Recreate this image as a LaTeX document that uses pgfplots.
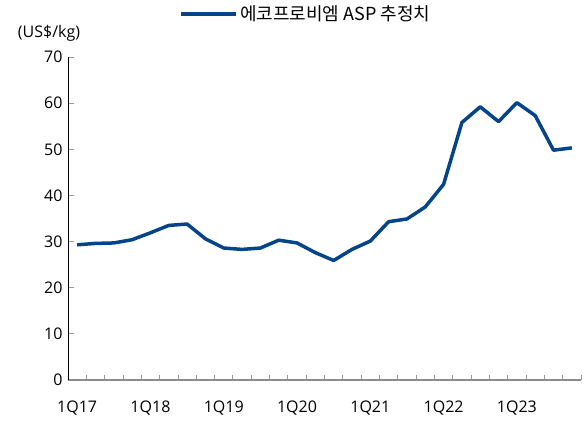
\documentclass[border=0pt]{standalone}
\usepackage{fontspec}
\setmainfont{Open Sans}
\newfontfamily\kr{Noto Sans CJK KR}
\usepackage{pgfplots}
\pgfplotsset{compat=1.18}
\definecolor{lineblue}{RGB}{6,68,138}
\begin{document}
\fontsize{16bp}{19bp}\selectfont
\begin{tikzpicture}
\begin{axis}[
  name=ax,
  scale only axis,
  width=513bp, height=323bp,
  xmin=-0.5, xmax=27.5,
  ymin=0, ymax=70,
  ytick={0,10,...,70},
  xtick={0,4,...,24},
  xticklabels={1Q17,1Q18,1Q19,1Q20,1Q21,1Q22,1Q23},
  minor xtick={-0.5,0.5,...,27.5},
  major x tick style={draw=none},
  minor x tick style={draw=gray!80, line width=0.8bp},
  minor tick length=5bp,
  y tick style={draw=gray!80, line width=0.8bp},
  major tick length=6bp,
  tick align=inside,
  axis x line*=bottom,
  axis y line*=left,
  x axis line style={draw=gray!90, line width=1.6bp, -},
  y axis line style={draw=black, line width=0.7bp, -},
  xticklabel style={yshift=-15bp},
  yticklabel style={xshift=0bp},
  /pgf/number format/assume math mode=true,
  legend style={at={(rel axis cs:0.464,1.133)}, anchor=center, draw=none, fill=none, inner sep=0pt,
    legend cell align=left},
  legend image code/.code={\draw[#1, line width=3.2bp] (0,0) -- (55bp,0);},
  clip=false,
]
\addplot[color=lineblue, line width=3.5bp, line join=round] coordinates {
(0,29.3) (1,29.6) (2,29.7) (3,30.4) (4,31.9) (5,33.5) (6,33.8) (7,30.6)
(8,28.6) (9,28.3) (10,28.6) (11,30.3) (12,29.7) (13,27.6) (14,25.9) (15,28.3)
(16,30.1) (17,34.3) (18,34.9) (19,37.5) (20,42.4) (21,55.8) (22,59.2) (23,56.0)
(24,60.1) (25,57.3) (26,49.8) (27,50.3)
};
\addlegendentry{\kr\fontsize{18bp}{20bp}\selectfont 에코프로비엠 ASP 추정치}
\node at (rel axis cs:0,1) [xshift=-19bp, yshift=24bp] {(US\$/kg)};
\end{axis}
\pgfresetboundingbox
\path ([xshift=-68bp,yshift=-41bp]ax.south west) rectangle ([xshift=3bp,yshift=57bp]ax.north east);
\end{tikzpicture}
\end{document}
